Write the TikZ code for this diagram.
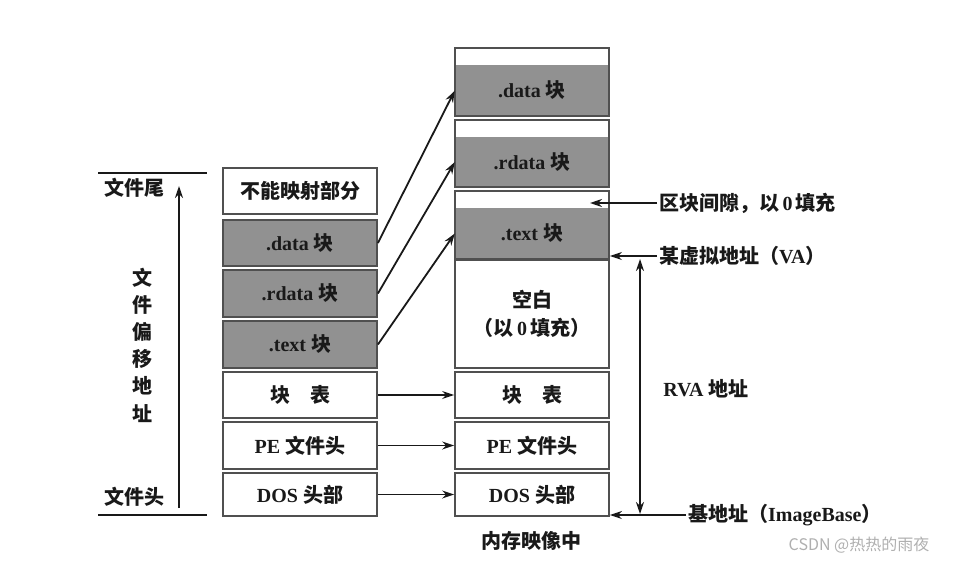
\documentclass[tikz,border=0pt]{standalone}
\usepackage{fontspec}
\setmainfont{Liberation Serif}
\newfontfamily\cjkf{Noto Sans CJK SC}
\newfontfamily\wmf{Noto Sans CJK SC}
\newcommand\zh[1]{{\cjkf #1}}
\usetikzlibrary{arrows.meta,calc}
\definecolor{boxc}{RGB}{80,80,80}
\definecolor{blockc}{RGB}{145,145,145}
\definecolor{inkc}{RGB}{25,25,25}
\definecolor{wmc}{RGB}{175,175,175}
\begin{document}
\begin{tikzpicture}[x=1pt,y=-1pt,
  every node/.style={font=\fontsize{20}{23}\selectfont\bfseries, text=inkc},
  box/.style={draw=boxc, line width=1.8pt, minimum width=154pt, inner sep=0pt},
  blk/.style={fill=blockc, minimum width=154pt, inner sep=0pt},
  frame/.style={draw=boxc, line width=1.8pt, minimum width=154pt, inner sep=0pt},
  arr/.style={draw=inkc, line width=1.8pt, -{Stealth[length=12pt,width=8pt]}},
  darr/.style={draw=inkc, line width=1.8pt, {Stealth[length=12pt,width=8pt]}-{Stealth[length=12pt,width=8pt]}},
  rule/.style={draw=inkc, line width=1.8pt},
  lab/.style={inner sep=2pt}]
\useasboundingbox (0,0) rectangle (960,562);

% ---- left column (file) ----
\node[box, minimum height=46pt] (L0) at (300,191) {\zh{不能映射部分}};
\node[box, fill=blockc, minimum height=46pt] (L1) at (300,243) {.data \zh{块}};
\node[box, fill=blockc, minimum height=47pt] (L2) at (300,293.5) {.rdata \zh{块}};
\node[box, fill=blockc, minimum height=47pt] (L3) at (300,344.5) {.text \zh{块}};
\node[box, minimum height=46pt] (L4) at (300,395) {\zh{块\quad 表}};
\node[box, minimum height=47pt] (L5) at (300,445.5) {PE \zh{文件头}};
\node[box, minimum height=43pt] (L6) at (300,494.5) {DOS \zh{头部}};

% ---- left axis ----
\coordinate (tl1) at (98,173);
\coordinate (tl2) at (207,173);
\coordinate (bl1) at (98,515);
\coordinate (bl2) at (207,515);
\draw[rule] (tl1) -- (tl2);
\draw[rule] (bl1) -- (bl2);
\coordinate (fb) at (179,508);
\coordinate (ft) at (179,186);
\draw[arr] (fb) -- (ft);
\node (tail) at (134,188) {\zh{文件尾}};
\node (head) at (134,497) {\zh{文件头}};
\node[align=center, font=\fontsize{20}{27.2}\selectfont\bfseries] (off) at (142,345)
  {\zh{文}\\\zh{件}\\\zh{偏}\\\zh{移}\\\zh{地}\\\zh{址}};

% ---- right column (memory image) ----
\node[blk, minimum height=51pt] (G1) at (532,90.5) {.data \zh{块}};
\node[frame, minimum height=68pt] (R1) at (532,82) {};
\node[blk, minimum height=50pt] (G2) at (532,162) {.rdata \zh{块}};
\node[frame, minimum height=67pt] (R2) at (532,153.5) {};
\node[blk, minimum height=51pt] (G3) at (532,233.5) {.text \zh{块}};
\node[frame, minimum height=68pt] (R3) at (532,225) {};
\node[box, minimum height=108pt, align=center, font=\fontsize{20}{28}\selectfont\bfseries] (R4) at (532,314)
  {\zh{空白}\\\zh{（以}\,0\,\zh{填充）}};
\node[box, minimum height=46pt] (R5) at (532,395) {\zh{块\quad 表}};
\node[box, minimum height=47pt] (R6) at (532,445.5) {PE \zh{文件头}};
\node[box, minimum height=43pt] (R7) at (532,494.5) {DOS \zh{头部}};
\node (mem) at (531,541) {\zh{内存映像中}};

% ---- mapping arrows ----
\draw[arr] (L1.east) -- (G1.west);
\draw[arr] (L2.east) -- (G2.west);
\draw[arr] (L3.east) -- (G3.west);
\draw[arr] (L4.east) -- (R5.west);
\draw[arr] (L5.east) -- (R6.west);
\draw[arr] (L6.east) -- (R7.west);

% ---- right annotations ----
\node[lab, anchor=west] (gap) at (657,203) {\zh{区块间隙，以}\,0\,\zh{填充}};
\coordinate (gaptip) at (590,203);
\draw[arr] (gap.west) -- (gaptip);

\node[lab, anchor=west] (va) at (657,256) {\zh{某虚拟地址（}VA\zh{）}};
\draw[arr] (va.west) -- (R3.east |- va.west);

\coordinate (rvatop) at (640,259);
\coordinate (rvabot) at (640,514);
\draw[darr] (rvatop) -- (rvabot);
\node (rva) at (706,389) {RVA \zh{地址}};

\node[lab, anchor=west] (ib) at (686,515) {\zh{基地址（}ImageBase\zh{）}};
\draw[arr] (ib.west) -- (R7.east |- ib.west);

\node[text=wmc, font=\fontsize{16}{19}\selectfont] (wm) at (859,545) {\wmf CSDN @热热的雨夜};
\end{tikzpicture}
\end{document}
